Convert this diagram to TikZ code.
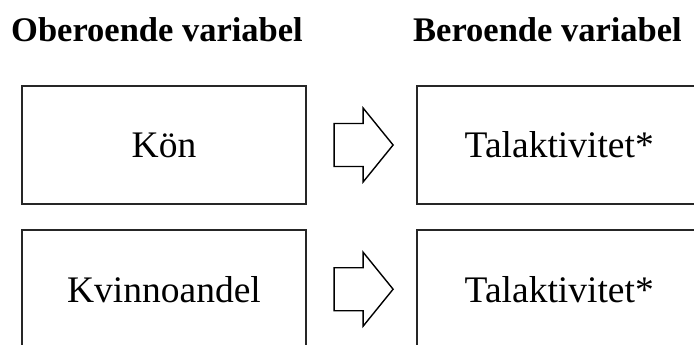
\documentclass[tikz,border=0pt]{standalone}
\usepackage{fontspec}
\setmainfont{Liberation Serif}
\usetikzlibrary{positioning,calc}

\tikzset{
  varbox/.style={draw=black!85, line width=2.2pt, minimum width=284pt, minimum height=118pt, inner sep=0pt, font=\fontsize{37.5}{44}\selectfont},
  headline/.style={anchor=base west, inner sep=0pt, font=\fontsize{34.5}{41}\selectfont\bfseries},
  blockarrow/.style={draw=black, line width=1.4pt, line join=miter}
}

\newcommand{\causearrow}[1]{%
  \draw[blockarrow] (#1) ++(0,-21.5) -- ++(29,0) -- ++(0,-15.5) -- ++(30,37)
    -- ++(-30,37) -- ++(0,-15.5) -- ++(-29,0) -- cycle;}

\begin{document}
\begin{tikzpicture}[x=1pt,y=-1pt]
\useasboundingbox (0,0) rectangle (694,345);

% Headings
\node[headline] (oberoende) at (11,42) {Oberoende variabel};
\node[headline] (beroende) at (413,42) {Beroende variabel};

% Independent variables
\node[varbox] (kon) at (164,145) {Kön};
\node[varbox, below=24pt of kon] (kvinno) {Kvinnoandel};

% Dependent variables
\node[varbox, right=109pt of kon] (tal1) {Talaktivitet*};
\node[varbox, right=109pt of kvinno] (tal2) {Talaktivitet*};

% Arrows between the boxes
\coordinate (pil1) at ($(kon.east)+(27,0)$);
\coordinate (pil2) at ($(kvinno.east)+(27,0)$);
\causearrow{pil1}
\causearrow{pil2}

\end{tikzpicture}
\end{document}
